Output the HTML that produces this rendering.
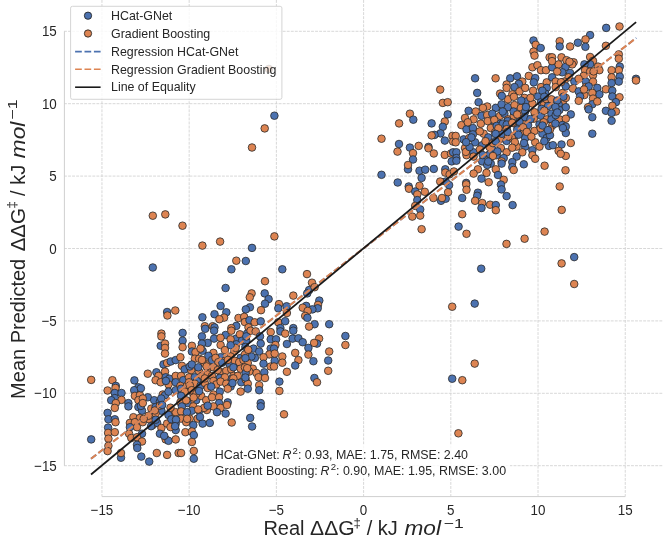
<!DOCTYPE html><html><head><meta charset="utf-8"><style>html,body{margin:0;padding:0;background:#fff;overflow:hidden}svg{display:block;filter:blur(0.4px)}</style></head><body><svg width="663" height="542" viewBox="0 0 663 542">
<rect width="663" height="542" fill="#fff"/>
<g stroke="#d4d4d4" stroke-width="0.9" stroke-dasharray="2.9 1.15"><line x1="64" y1="465.70" x2="663" y2="465.70"/><line x1="101.95" y1="0" x2="101.95" y2="496.5"/><line x1="64" y1="393.30" x2="663" y2="393.30"/><line x1="189.17" y1="0" x2="189.17" y2="496.5"/><line x1="64" y1="320.90" x2="663" y2="320.90"/><line x1="276.38" y1="0" x2="276.38" y2="496.5"/><line x1="64" y1="248.50" x2="663" y2="248.50"/><line x1="363.60" y1="0" x2="363.60" y2="496.5"/><line x1="64" y1="176.10" x2="663" y2="176.10"/><line x1="450.82" y1="0" x2="450.82" y2="496.5"/><line x1="64" y1="103.70" x2="663" y2="103.70"/><line x1="538.03" y1="0" x2="538.03" y2="496.5"/><line x1="64" y1="31.30" x2="663" y2="31.30"/><line x1="625.25" y1="0" x2="625.25" y2="496.5"/></g>
<line x1="64.4" y1="31.30" x2="64.4" y2="465.70" stroke="#cfcfcf" stroke-width="1.0"/>
<line x1="101.95" y1="496.6" x2="625.25" y2="496.6" stroke="#cfcfcf" stroke-width="1.0"/>
<g stroke="#2a2a2a" stroke-width="0.8"><circle cx="152.8" cy="267.5" r="3.8" fill="#4c72b0"/><circle cx="167.1" cy="312.0" r="3.8" fill="#4c72b0"/><circle cx="167.4" cy="315.5" r="3.8" fill="#dd8452"/><circle cx="175.3" cy="310.5" r="3.8" fill="#dd8452"/><circle cx="236.3" cy="260.7" r="3.8" fill="#dd8452"/><circle cx="245.8" cy="261.0" r="3.8" fill="#4c72b0"/><circle cx="231.4" cy="269.3" r="3.8" fill="#4c72b0"/><circle cx="265.0" cy="281.2" r="3.8" fill="#dd8452"/><circle cx="225.6" cy="288.0" r="3.8" fill="#4c72b0"/><circle cx="251.6" cy="293.4" r="3.8" fill="#dd8452"/><circle cx="249.8" cy="297.3" r="3.8" fill="#dd8452"/><circle cx="264.7" cy="293.4" r="3.8" fill="#4c72b0"/><circle cx="268.6" cy="299.1" r="3.8" fill="#4c72b0"/><circle cx="265.0" cy="303.7" r="3.8" fill="#4c72b0"/><circle cx="220.6" cy="305.9" r="3.8" fill="#4c72b0"/><circle cx="261.0" cy="310.2" r="3.8" fill="#dd8452"/><circle cx="249.9" cy="307.3" r="3.8" fill="#4c72b0"/><circle cx="245.8" cy="309.4" r="3.8" fill="#4c72b0"/><circle cx="226.3" cy="312.3" r="3.8" fill="#4c72b0"/><circle cx="214.5" cy="314.2" r="3.8" fill="#4c72b0"/><circle cx="202.4" cy="317.3" r="3.8" fill="#4c72b0"/><circle cx="224.1" cy="317.6" r="3.8" fill="#dd8452"/><circle cx="219.4" cy="319.2" r="3.8" fill="#dd8452"/><circle cx="238.5" cy="318.0" r="3.8" fill="#dd8452"/><circle cx="244.2" cy="316.9" r="3.8" fill="#dd8452"/><circle cx="244.9" cy="322.1" r="3.8" fill="#dd8452"/><circle cx="249.5" cy="320.2" r="3.8" fill="#4c72b0"/><circle cx="254.7" cy="322.3" r="3.8" fill="#dd8452"/><circle cx="260.7" cy="321.3" r="3.8" fill="#4c72b0"/><circle cx="248.5" cy="327.4" r="3.8" fill="#dd8452"/><circle cx="236.3" cy="325.9" r="3.8" fill="#4c72b0"/><circle cx="204.8" cy="326.2" r="3.8" fill="#dd8452"/><circle cx="205.2" cy="328.8" r="3.8" fill="#4c72b0"/><circle cx="212.7" cy="326.2" r="3.8" fill="#dd8452"/><circle cx="214.5" cy="327.4" r="3.8" fill="#4c72b0"/><circle cx="231.3" cy="328.1" r="3.8" fill="#dd8452"/><circle cx="282.3" cy="269.3" r="3.8" fill="#4c72b0"/><circle cx="307.0" cy="274.1" r="3.8" fill="#dd8452"/><circle cx="312.0" cy="282.7" r="3.8" fill="#dd8452"/><circle cx="309.1" cy="290.1" r="3.8" fill="#4c72b0"/><circle cx="307.2" cy="293.4" r="3.8" fill="#4c72b0"/><circle cx="314.6" cy="287.2" r="3.8" fill="#dd8452"/><circle cx="293.3" cy="295.6" r="3.8" fill="#dd8452"/><circle cx="279.0" cy="304.1" r="3.8" fill="#dd8452"/><circle cx="278.3" cy="308.3" r="3.8" fill="#4c72b0"/><circle cx="286.6" cy="306.3" r="3.8" fill="#4c72b0"/><circle cx="286.9" cy="313.0" r="3.8" fill="#dd8452"/><circle cx="278.3" cy="322.3" r="3.8" fill="#dd8452"/><circle cx="285.2" cy="321.2" r="3.8" fill="#4c72b0"/><circle cx="306.2" cy="305.9" r="3.8" fill="#4c72b0"/><circle cx="302.7" cy="307.7" r="3.8" fill="#dd8452"/><circle cx="319.3" cy="300.6" r="3.8" fill="#4c72b0"/><circle cx="318.0" cy="304.9" r="3.8" fill="#dd8452"/><circle cx="317.7" cy="308.3" r="3.8" fill="#4c72b0"/><circle cx="312.4" cy="309.4" r="3.8" fill="#4c72b0"/><circle cx="307.7" cy="310.9" r="3.8" fill="#dd8452"/><circle cx="305.2" cy="315.9" r="3.8" fill="#dd8452"/><circle cx="307.4" cy="317.8" r="3.8" fill="#4c72b0"/><circle cx="314.6" cy="324.2" r="3.8" fill="#4c72b0"/><circle cx="329.2" cy="324.2" r="3.8" fill="#4c72b0"/><circle cx="309.1" cy="326.6" r="3.8" fill="#dd8452"/><circle cx="293.3" cy="328.1" r="3.8" fill="#4c72b0"/><circle cx="280.4" cy="328.1" r="3.8" fill="#4c72b0"/><circle cx="91.2" cy="379.9" r="3.8" fill="#dd8452"/><circle cx="112.4" cy="380.2" r="3.8" fill="#dd8452"/><circle cx="115.8" cy="385.9" r="3.8" fill="#4c72b0"/><circle cx="115.5" cy="388.0" r="3.8" fill="#dd8452"/><circle cx="107.6" cy="390.5" r="3.8" fill="#dd8452"/><circle cx="114.8" cy="393.0" r="3.8" fill="#4c72b0"/><circle cx="121.5" cy="393.0" r="3.8" fill="#4c72b0"/><circle cx="114.8" cy="398.1" r="3.8" fill="#4c72b0"/><circle cx="121.5" cy="399.9" r="3.8" fill="#dd8452"/><circle cx="111.2" cy="400.2" r="3.8" fill="#4c72b0"/><circle cx="115.8" cy="403.1" r="3.8" fill="#dd8452"/><circle cx="134.4" cy="380.4" r="3.8" fill="#4c72b0"/><circle cx="138.4" cy="387.3" r="3.8" fill="#4c72b0"/><circle cx="134.2" cy="390.2" r="3.8" fill="#4c72b0"/><circle cx="134.9" cy="395.9" r="3.8" fill="#dd8452"/><circle cx="139.9" cy="395.2" r="3.8" fill="#dd8452"/><circle cx="138.4" cy="400.2" r="3.8" fill="#dd8452"/><circle cx="128.4" cy="403.1" r="3.8" fill="#4c72b0"/><circle cx="147.8" cy="397.3" r="3.8" fill="#4c72b0"/><circle cx="154.2" cy="400.2" r="3.8" fill="#4c72b0"/><circle cx="147.8" cy="373.7" r="3.8" fill="#dd8452"/><circle cx="156.4" cy="372.3" r="3.8" fill="#4c72b0"/><circle cx="161.4" cy="333.6" r="3.8" fill="#dd8452"/><circle cx="161.4" cy="336.4" r="3.8" fill="#dd8452"/><circle cx="160.7" cy="345.8" r="3.8" fill="#4c72b0"/><circle cx="165.0" cy="343.6" r="3.8" fill="#dd8452"/><circle cx="165.0" cy="347.9" r="3.8" fill="#dd8452"/><circle cx="165.0" cy="353.6" r="3.8" fill="#dd8452"/><circle cx="163.5" cy="364.4" r="3.8" fill="#4c72b0"/><circle cx="167.1" cy="363.0" r="3.8" fill="#dd8452"/><circle cx="170.7" cy="361.5" r="3.8" fill="#4c72b0"/><circle cx="175.7" cy="360.1" r="3.8" fill="#4c72b0"/><circle cx="165.0" cy="371.6" r="3.8" fill="#dd8452"/><circle cx="165.7" cy="377.3" r="3.8" fill="#4c72b0"/><circle cx="158.5" cy="375.9" r="3.8" fill="#dd8452"/><circle cx="155.6" cy="380.2" r="3.8" fill="#dd8452"/><circle cx="160.7" cy="382.3" r="3.8" fill="#dd8452"/><circle cx="169.3" cy="378.7" r="3.8" fill="#4c72b0"/><circle cx="168.5" cy="384.4" r="3.8" fill="#dd8452"/><circle cx="175.7" cy="375.9" r="3.8" fill="#dd8452"/><circle cx="175.7" cy="382.3" r="3.8" fill="#4c72b0"/><circle cx="162.8" cy="394.5" r="3.8" fill="#dd8452"/><circle cx="165.0" cy="395.2" r="3.8" fill="#4c72b0"/><circle cx="168.5" cy="391.6" r="3.8" fill="#4c72b0"/><circle cx="175.7" cy="390.2" r="3.8" fill="#4c72b0"/><circle cx="159.9" cy="401.6" r="3.8" fill="#4c72b0"/><circle cx="182.6" cy="332.9" r="3.8" fill="#4c72b0"/><circle cx="201.9" cy="336.4" r="3.8" fill="#4c72b0"/><circle cx="214.1" cy="330.7" r="3.8" fill="#4c72b0"/><circle cx="214.1" cy="338.6" r="3.8" fill="#4c72b0"/><circle cx="225.6" cy="335.0" r="3.8" fill="#4c72b0"/><circle cx="231.3" cy="330.7" r="3.8" fill="#dd8452"/><circle cx="236.3" cy="338.6" r="3.8" fill="#4c72b0"/><circle cx="239.9" cy="334.3" r="3.8" fill="#dd8452"/><circle cx="247.1" cy="333.6" r="3.8" fill="#4c72b0"/><circle cx="250.6" cy="330.7" r="3.8" fill="#dd8452"/><circle cx="255.7" cy="331.4" r="3.8" fill="#dd8452"/><circle cx="260.0" cy="336.4" r="3.8" fill="#4c72b0"/><circle cx="270.7" cy="332.1" r="3.8" fill="#dd8452"/><circle cx="270.7" cy="339.3" r="3.8" fill="#4c72b0"/><circle cx="207.7" cy="342.9" r="3.8" fill="#4c72b0"/><circle cx="201.9" cy="343.6" r="3.8" fill="#4c72b0"/><circle cx="220.6" cy="345.0" r="3.8" fill="#dd8452"/><circle cx="230.6" cy="339.3" r="3.8" fill="#dd8452"/><circle cx="242.0" cy="340.7" r="3.8" fill="#4c72b0"/><circle cx="246.3" cy="340.7" r="3.8" fill="#4c72b0"/><circle cx="182.6" cy="340.7" r="3.8" fill="#4c72b0"/><circle cx="182.6" cy="347.2" r="3.8" fill="#dd8452"/><circle cx="191.9" cy="345.8" r="3.8" fill="#dd8452"/><circle cx="191.9" cy="351.5" r="3.8" fill="#4c72b0"/><circle cx="195.5" cy="352.2" r="3.8" fill="#dd8452"/><circle cx="202.6" cy="350.8" r="3.8" fill="#4c72b0"/><circle cx="200.5" cy="348.6" r="3.8" fill="#dd8452"/><circle cx="213.4" cy="352.9" r="3.8" fill="#dd8452"/><circle cx="208.4" cy="355.8" r="3.8" fill="#4c72b0"/><circle cx="224.9" cy="350.1" r="3.8" fill="#dd8452"/><circle cx="220.6" cy="357.2" r="3.8" fill="#4c72b0"/><circle cx="234.2" cy="351.5" r="3.8" fill="#dd8452"/><circle cx="236.3" cy="344.3" r="3.8" fill="#4c72b0"/><circle cx="235.6" cy="347.9" r="3.8" fill="#dd8452"/><circle cx="253.5" cy="348.6" r="3.8" fill="#4c72b0"/><circle cx="259.2" cy="351.5" r="3.8" fill="#4c72b0"/><circle cx="260.7" cy="343.6" r="3.8" fill="#4c72b0"/><circle cx="270.7" cy="348.6" r="3.8" fill="#4c72b0"/><circle cx="269.3" cy="354.4" r="3.8" fill="#dd8452"/><circle cx="263.5" cy="357.2" r="3.8" fill="#dd8452"/><circle cx="254.9" cy="357.9" r="3.8" fill="#4c72b0"/><circle cx="251.4" cy="356.5" r="3.8" fill="#4c72b0"/><circle cx="240.6" cy="357.9" r="3.8" fill="#4c72b0"/><circle cx="244.9" cy="354.4" r="3.8" fill="#dd8452"/><circle cx="230.6" cy="356.5" r="3.8" fill="#dd8452"/><circle cx="180.4" cy="357.2" r="3.8" fill="#dd8452"/><circle cx="194.8" cy="358.7" r="3.8" fill="#dd8452"/><circle cx="199.1" cy="358.7" r="3.8" fill="#dd8452"/><circle cx="204.1" cy="363.0" r="3.8" fill="#dd8452"/><circle cx="208.4" cy="364.4" r="3.8" fill="#dd8452"/><circle cx="212.0" cy="360.1" r="3.8" fill="#4c72b0"/><circle cx="215.5" cy="357.9" r="3.8" fill="#dd8452"/><circle cx="218.4" cy="362.2" r="3.8" fill="#dd8452"/><circle cx="224.9" cy="360.8" r="3.8" fill="#dd8452"/><circle cx="229.9" cy="364.4" r="3.8" fill="#4c72b0"/><circle cx="234.9" cy="360.8" r="3.8" fill="#dd8452"/><circle cx="239.2" cy="362.2" r="3.8" fill="#dd8452"/><circle cx="243.5" cy="360.1" r="3.8" fill="#dd8452"/><circle cx="247.8" cy="363.0" r="3.8" fill="#dd8452"/><circle cx="263.5" cy="363.7" r="3.8" fill="#4c72b0"/><circle cx="270.7" cy="366.5" r="3.8" fill="#dd8452"/><circle cx="181.9" cy="365.8" r="3.8" fill="#dd8452"/><circle cx="184.7" cy="369.4" r="3.8" fill="#4c72b0"/><circle cx="191.2" cy="370.1" r="3.8" fill="#dd8452"/><circle cx="189.7" cy="366.5" r="3.8" fill="#4c72b0"/><circle cx="199.1" cy="371.6" r="3.8" fill="#dd8452"/><circle cx="207.7" cy="368.7" r="3.8" fill="#dd8452"/><circle cx="213.4" cy="367.3" r="3.8" fill="#dd8452"/><circle cx="219.8" cy="371.6" r="3.8" fill="#dd8452"/><circle cx="226.3" cy="370.8" r="3.8" fill="#dd8452"/><circle cx="231.3" cy="369.4" r="3.8" fill="#dd8452"/><circle cx="233.4" cy="367.3" r="3.8" fill="#4c72b0"/><circle cx="240.6" cy="368.7" r="3.8" fill="#dd8452"/><circle cx="244.9" cy="367.3" r="3.8" fill="#dd8452"/><circle cx="252.8" cy="368.7" r="3.8" fill="#dd8452"/><circle cx="256.4" cy="373.0" r="3.8" fill="#dd8452"/><circle cx="264.3" cy="372.3" r="3.8" fill="#4c72b0"/><circle cx="249.2" cy="371.6" r="3.8" fill="#dd8452"/><circle cx="245.6" cy="373.0" r="3.8" fill="#4c72b0"/><circle cx="181.1" cy="375.9" r="3.8" fill="#dd8452"/><circle cx="183.3" cy="380.2" r="3.8" fill="#4c72b0"/><circle cx="189.0" cy="377.3" r="3.8" fill="#dd8452"/><circle cx="194.8" cy="377.3" r="3.8" fill="#4c72b0"/><circle cx="201.9" cy="375.9" r="3.8" fill="#dd8452"/><circle cx="196.9" cy="380.9" r="3.8" fill="#4c72b0"/><circle cx="207.7" cy="374.4" r="3.8" fill="#dd8452"/><circle cx="212.0" cy="375.9" r="3.8" fill="#dd8452"/><circle cx="219.8" cy="378.0" r="3.8" fill="#4c72b0"/><circle cx="224.9" cy="377.3" r="3.8" fill="#dd8452"/><circle cx="233.4" cy="375.9" r="3.8" fill="#dd8452"/><circle cx="232.0" cy="378.7" r="3.8" fill="#4c72b0"/><circle cx="237.7" cy="375.9" r="3.8" fill="#dd8452"/><circle cx="241.3" cy="382.3" r="3.8" fill="#4c72b0"/><circle cx="245.6" cy="379.4" r="3.8" fill="#dd8452"/><circle cx="247.8" cy="383.7" r="3.8" fill="#dd8452"/><circle cx="258.5" cy="377.3" r="3.8" fill="#dd8452"/><circle cx="265.0" cy="378.0" r="3.8" fill="#dd8452"/><circle cx="259.2" cy="385.2" r="3.8" fill="#dd8452"/><circle cx="259.2" cy="390.2" r="3.8" fill="#4c72b0"/><circle cx="180.4" cy="385.9" r="3.8" fill="#dd8452"/><circle cx="181.1" cy="388.7" r="3.8" fill="#4c72b0"/><circle cx="186.9" cy="385.9" r="3.8" fill="#dd8452"/><circle cx="189.0" cy="382.3" r="3.8" fill="#dd8452"/><circle cx="194.8" cy="383.7" r="3.8" fill="#dd8452"/><circle cx="200.5" cy="385.9" r="3.8" fill="#4c72b0"/><circle cx="204.8" cy="383.0" r="3.8" fill="#dd8452"/><circle cx="207.7" cy="388.0" r="3.8" fill="#dd8452"/><circle cx="213.4" cy="380.9" r="3.8" fill="#dd8452"/><circle cx="216.3" cy="384.4" r="3.8" fill="#dd8452"/><circle cx="211.2" cy="386.6" r="3.8" fill="#4c72b0"/><circle cx="220.6" cy="381.6" r="3.8" fill="#dd8452"/><circle cx="226.3" cy="383.7" r="3.8" fill="#dd8452"/><circle cx="230.6" cy="386.6" r="3.8" fill="#4c72b0"/><circle cx="227.7" cy="388.7" r="3.8" fill="#dd8452"/><circle cx="219.8" cy="391.6" r="3.8" fill="#4c72b0"/><circle cx="247.8" cy="388.7" r="3.8" fill="#4c72b0"/><circle cx="240.6" cy="391.6" r="3.8" fill="#dd8452"/><circle cx="213.4" cy="394.5" r="3.8" fill="#dd8452"/><circle cx="184.7" cy="391.6" r="3.8" fill="#dd8452"/><circle cx="181.1" cy="395.9" r="3.8" fill="#4c72b0"/><circle cx="193.3" cy="393.8" r="3.8" fill="#dd8452"/><circle cx="196.2" cy="400.2" r="3.8" fill="#4c72b0"/><circle cx="201.2" cy="395.9" r="3.8" fill="#dd8452"/><circle cx="206.2" cy="400.2" r="3.8" fill="#dd8452"/><circle cx="212.0" cy="397.3" r="3.8" fill="#dd8452"/><circle cx="219.1" cy="397.3" r="3.8" fill="#dd8452"/><circle cx="219.1" cy="403.1" r="3.8" fill="#4c72b0"/><circle cx="227.7" cy="402.4" r="3.8" fill="#4c72b0"/><circle cx="190.5" cy="401.6" r="3.8" fill="#dd8452"/><circle cx="260.7" cy="403.1" r="3.8" fill="#4c72b0"/><circle cx="180.4" cy="402.4" r="3.8" fill="#dd8452"/><circle cx="187.6" cy="403.1" r="3.8" fill="#4c72b0"/><circle cx="152.8" cy="215.7" r="3.8" fill="#dd8452"/><circle cx="165.3" cy="214.4" r="3.8" fill="#dd8452"/><circle cx="182.5" cy="225.7" r="3.8" fill="#dd8452"/><circle cx="202.4" cy="245.6" r="3.8" fill="#dd8452"/><circle cx="220.1" cy="241.6" r="3.8" fill="#dd8452"/><circle cx="274.4" cy="115.7" r="3.8" fill="#4c72b0"/><circle cx="264.7" cy="128.4" r="3.8" fill="#dd8452"/><circle cx="252.0" cy="147.5" r="3.8" fill="#dd8452"/><circle cx="252.0" cy="247.9" r="3.8" fill="#4c72b0"/><circle cx="274.4" cy="236.4" r="3.8" fill="#dd8452"/><circle cx="268.9" cy="69.0" r="3.8" fill="#dd8452"/><circle cx="280.4" cy="331.4" r="3.8" fill="#4c72b0"/><circle cx="285.2" cy="333.6" r="3.8" fill="#dd8452"/><circle cx="293.3" cy="330.7" r="3.8" fill="#4c72b0"/><circle cx="276.1" cy="339.3" r="3.8" fill="#4c72b0"/><circle cx="275.4" cy="345.0" r="3.8" fill="#dd8452"/><circle cx="274.0" cy="348.6" r="3.8" fill="#4c72b0"/><circle cx="286.9" cy="344.0" r="3.8" fill="#4c72b0"/><circle cx="292.6" cy="338.6" r="3.8" fill="#4c72b0"/><circle cx="298.4" cy="338.3" r="3.8" fill="#4c72b0"/><circle cx="302.7" cy="342.2" r="3.8" fill="#4c72b0"/><circle cx="319.1" cy="338.6" r="3.8" fill="#dd8452"/><circle cx="317.0" cy="343.6" r="3.8" fill="#4c72b0"/><circle cx="314.1" cy="342.9" r="3.8" fill="#dd8452"/><circle cx="308.4" cy="347.9" r="3.8" fill="#4c72b0"/><circle cx="308.4" cy="354.6" r="3.8" fill="#dd8452"/><circle cx="295.2" cy="352.9" r="3.8" fill="#dd8452"/><circle cx="282.3" cy="356.5" r="3.8" fill="#dd8452"/><circle cx="282.3" cy="362.7" r="3.8" fill="#dd8452"/><circle cx="274.7" cy="360.8" r="3.8" fill="#4c72b0"/><circle cx="274.7" cy="353.6" r="3.8" fill="#dd8452"/><circle cx="298.4" cy="360.1" r="3.8" fill="#dd8452"/><circle cx="295.2" cy="365.5" r="3.8" fill="#4c72b0"/><circle cx="313.4" cy="361.2" r="3.8" fill="#4c72b0"/><circle cx="329.2" cy="351.5" r="3.8" fill="#dd8452"/><circle cx="328.2" cy="360.5" r="3.8" fill="#4c72b0"/><circle cx="328.2" cy="370.8" r="3.8" fill="#dd8452"/><circle cx="345.4" cy="336.0" r="3.8" fill="#4c72b0"/><circle cx="345.4" cy="345.0" r="3.8" fill="#dd8452"/><circle cx="286.9" cy="371.8" r="3.8" fill="#dd8452"/><circle cx="279.4" cy="381.6" r="3.8" fill="#4c72b0"/><circle cx="279.4" cy="390.9" r="3.8" fill="#dd8452"/><circle cx="314.4" cy="378.0" r="3.8" fill="#4c72b0"/><circle cx="317.0" cy="382.3" r="3.8" fill="#dd8452"/><circle cx="274.0" cy="366.5" r="3.8" fill="#dd8452"/><circle cx="91.2" cy="439.4" r="3.8" fill="#4c72b0"/><circle cx="114.8" cy="407.9" r="3.8" fill="#dd8452"/><circle cx="107.6" cy="412.9" r="3.8" fill="#4c72b0"/><circle cx="108.4" cy="419.3" r="3.8" fill="#4c72b0"/><circle cx="114.8" cy="419.3" r="3.8" fill="#4c72b0"/><circle cx="115.5" cy="422.2" r="3.8" fill="#dd8452"/><circle cx="108.1" cy="427.6" r="3.8" fill="#4c72b0"/><circle cx="108.1" cy="432.9" r="3.8" fill="#dd8452"/><circle cx="114.8" cy="432.2" r="3.8" fill="#dd8452"/><circle cx="108.4" cy="438.7" r="3.8" fill="#dd8452"/><circle cx="108.4" cy="445.8" r="3.8" fill="#dd8452"/><circle cx="107.6" cy="451.1" r="3.8" fill="#dd8452"/><circle cx="121.0" cy="457.7" r="3.8" fill="#4c72b0"/><circle cx="121.0" cy="453.0" r="3.8" fill="#dd8452"/><circle cx="128.4" cy="406.4" r="3.8" fill="#4c72b0"/><circle cx="138.4" cy="407.1" r="3.8" fill="#4c72b0"/><circle cx="142.0" cy="410.7" r="3.8" fill="#4c72b0"/><circle cx="133.4" cy="417.2" r="3.8" fill="#dd8452"/><circle cx="139.9" cy="417.9" r="3.8" fill="#dd8452"/><circle cx="129.9" cy="422.9" r="3.8" fill="#dd8452"/><circle cx="134.9" cy="422.2" r="3.8" fill="#dd8452"/><circle cx="137.0" cy="427.2" r="3.8" fill="#dd8452"/><circle cx="142.7" cy="422.2" r="3.8" fill="#dd8452"/><circle cx="149.2" cy="419.3" r="3.8" fill="#dd8452"/><circle cx="129.9" cy="427.2" r="3.8" fill="#4c72b0"/><circle cx="129.1" cy="433.7" r="3.8" fill="#dd8452"/><circle cx="142.0" cy="433.7" r="3.8" fill="#4c72b0"/><circle cx="131.3" cy="438.0" r="3.8" fill="#dd8452"/><circle cx="137.0" cy="437.2" r="3.8" fill="#dd8452"/><circle cx="142.0" cy="441.5" r="3.8" fill="#dd8452"/><circle cx="137.0" cy="444.8" r="3.8" fill="#4c72b0"/><circle cx="137.3" cy="448.0" r="3.8" fill="#4c72b0"/><circle cx="141.3" cy="456.6" r="3.8" fill="#4c72b0"/><circle cx="149.2" cy="461.6" r="3.8" fill="#4c72b0"/><circle cx="156.8" cy="453.0" r="3.8" fill="#dd8452"/><circle cx="167.1" cy="454.9" r="3.8" fill="#dd8452"/><circle cx="178.6" cy="453.0" r="3.8" fill="#dd8452"/><circle cx="151.3" cy="408.6" r="3.8" fill="#dd8452"/><circle cx="155.6" cy="407.1" r="3.8" fill="#4c72b0"/><circle cx="161.4" cy="410.7" r="3.8" fill="#4c72b0"/><circle cx="159.9" cy="405.7" r="3.8" fill="#dd8452"/><circle cx="170.0" cy="413.6" r="3.8" fill="#dd8452"/><circle cx="168.5" cy="415.0" r="3.8" fill="#4c72b0"/><circle cx="175.7" cy="412.2" r="3.8" fill="#dd8452"/><circle cx="152.8" cy="425.1" r="3.8" fill="#dd8452"/><circle cx="157.1" cy="422.9" r="3.8" fill="#4c72b0"/><circle cx="161.4" cy="427.9" r="3.8" fill="#dd8452"/><circle cx="167.1" cy="423.6" r="3.8" fill="#dd8452"/><circle cx="171.4" cy="419.3" r="3.8" fill="#4c72b0"/><circle cx="175.7" cy="423.6" r="3.8" fill="#4c72b0"/><circle cx="175.7" cy="430.1" r="3.8" fill="#4c72b0"/><circle cx="159.9" cy="433.7" r="3.8" fill="#4c72b0"/><circle cx="165.7" cy="439.4" r="3.8" fill="#dd8452"/><circle cx="168.5" cy="440.8" r="3.8" fill="#4c72b0"/><circle cx="175.7" cy="439.4" r="3.8" fill="#dd8452"/><circle cx="164.2" cy="435.8" r="3.8" fill="#4c72b0"/><circle cx="155.6" cy="413.6" r="3.8" fill="#dd8452"/><circle cx="148.5" cy="415.7" r="3.8" fill="#dd8452"/><circle cx="181.9" cy="406.4" r="3.8" fill="#4c72b0"/><circle cx="193.3" cy="406.4" r="3.8" fill="#dd8452"/><circle cx="191.9" cy="410.7" r="3.8" fill="#4c72b0"/><circle cx="199.1" cy="410.7" r="3.8" fill="#4c72b0"/><circle cx="206.9" cy="410.0" r="3.8" fill="#dd8452"/><circle cx="213.4" cy="406.4" r="3.8" fill="#dd8452"/><circle cx="220.6" cy="407.9" r="3.8" fill="#dd8452"/><circle cx="217.0" cy="412.2" r="3.8" fill="#4c72b0"/><circle cx="225.6" cy="413.6" r="3.8" fill="#4c72b0"/><circle cx="227.0" cy="405.0" r="3.8" fill="#dd8452"/><circle cx="181.1" cy="411.4" r="3.8" fill="#dd8452"/><circle cx="181.1" cy="418.6" r="3.8" fill="#dd8452"/><circle cx="189.7" cy="418.6" r="3.8" fill="#dd8452"/><circle cx="197.6" cy="418.6" r="3.8" fill="#dd8452"/><circle cx="186.9" cy="412.2" r="3.8" fill="#4c72b0"/><circle cx="186.2" cy="422.2" r="3.8" fill="#dd8452"/><circle cx="193.3" cy="425.1" r="3.8" fill="#4c72b0"/><circle cx="202.6" cy="423.6" r="3.8" fill="#4c72b0"/><circle cx="209.8" cy="422.9" r="3.8" fill="#4c72b0"/><circle cx="231.7" cy="422.5" r="3.8" fill="#dd8452"/><circle cx="260.7" cy="406.4" r="3.8" fill="#4c72b0"/><circle cx="250.2" cy="417.9" r="3.8" fill="#4c72b0"/><circle cx="252.1" cy="426.5" r="3.8" fill="#4c72b0"/><circle cx="185.4" cy="432.2" r="3.8" fill="#dd8452"/><circle cx="191.9" cy="431.5" r="3.8" fill="#dd8452"/><circle cx="193.8" cy="435.1" r="3.8" fill="#4c72b0"/><circle cx="191.9" cy="442.0" r="3.8" fill="#dd8452"/><circle cx="181.1" cy="453.0" r="3.8" fill="#dd8452"/><circle cx="193.8" cy="450.9" r="3.8" fill="#dd8452"/><circle cx="193.8" cy="458.7" r="3.8" fill="#4c72b0"/><circle cx="204.1" cy="407.9" r="3.8" fill="#dd8452"/><circle cx="207.7" cy="405.7" r="3.8" fill="#4c72b0"/><circle cx="284.0" cy="414.3" r="3.8" fill="#dd8452"/><circle cx="481.2" cy="268.7" r="3.8" fill="#4c72b0"/><circle cx="474.7" cy="303.6" r="3.8" fill="#4c72b0"/><circle cx="452.2" cy="306.7" r="3.8" fill="#dd8452"/><circle cx="474.7" cy="363.6" r="3.8" fill="#dd8452"/><circle cx="452.2" cy="378.7" r="3.8" fill="#4c72b0"/><circle cx="462.3" cy="380.2" r="3.8" fill="#dd8452"/><circle cx="458.4" cy="433.3" r="3.8" fill="#dd8452"/><circle cx="533.5" cy="40.5" r="3.8" fill="#4c72b0"/><circle cx="535.7" cy="44.8" r="3.8" fill="#dd8452"/><circle cx="540.7" cy="48.0" r="3.8" fill="#4c72b0"/><circle cx="533.5" cy="51.6" r="3.8" fill="#dd8452"/><circle cx="534.5" cy="55.6" r="3.8" fill="#dd8452"/><circle cx="532.4" cy="67.3" r="3.8" fill="#dd8452"/><circle cx="537.4" cy="65.2" r="3.8" fill="#dd8452"/><circle cx="541.0" cy="70.2" r="3.8" fill="#dd8452"/><circle cx="546.0" cy="70.2" r="3.8" fill="#dd8452"/><circle cx="549.6" cy="57.3" r="3.8" fill="#dd8452"/><circle cx="475.1" cy="78.3" r="3.8" fill="#4c72b0"/><circle cx="495.6" cy="78.3" r="3.8" fill="#dd8452"/><circle cx="510.2" cy="78.3" r="3.8" fill="#4c72b0"/><circle cx="517.0" cy="76.3" r="3.8" fill="#4c72b0"/><circle cx="528.8" cy="75.9" r="3.8" fill="#dd8452"/><circle cx="535.2" cy="78.1" r="3.8" fill="#4c72b0"/><circle cx="533.8" cy="82.4" r="3.8" fill="#4c72b0"/><circle cx="522.3" cy="81.6" r="3.8" fill="#dd8452"/><circle cx="546.7" cy="82.4" r="3.8" fill="#dd8452"/><circle cx="518.8" cy="83.8" r="3.8" fill="#4c72b0"/><circle cx="506.6" cy="84.5" r="3.8" fill="#dd8452"/><circle cx="606.2" cy="27.9" r="3.8" fill="#4c72b0"/><circle cx="619.5" cy="26.5" r="3.8" fill="#dd8452"/><circle cx="590.1" cy="35.1" r="3.8" fill="#4c72b0"/><circle cx="585.5" cy="39.4" r="3.8" fill="#dd8452"/><circle cx="577.9" cy="42.7" r="3.8" fill="#4c72b0"/><circle cx="585.4" cy="46.8" r="3.8" fill="#4c72b0"/><circle cx="570.1" cy="46.5" r="3.8" fill="#dd8452"/><circle cx="559.7" cy="41.2" r="3.8" fill="#dd8452"/><circle cx="559.7" cy="46.5" r="3.8" fill="#4c72b0"/><circle cx="605.9" cy="45.8" r="3.8" fill="#dd8452"/><circle cx="590.1" cy="57.0" r="3.8" fill="#dd8452"/><circle cx="593.0" cy="60.9" r="3.8" fill="#dd8452"/><circle cx="590.1" cy="64.2" r="3.8" fill="#4c72b0"/><circle cx="584.4" cy="64.4" r="3.8" fill="#4c72b0"/><circle cx="598.0" cy="66.6" r="3.8" fill="#dd8452"/><circle cx="599.4" cy="70.2" r="3.8" fill="#dd8452"/><circle cx="585.1" cy="70.2" r="3.8" fill="#dd8452"/><circle cx="590.1" cy="71.6" r="3.8" fill="#dd8452"/><circle cx="593.0" cy="75.2" r="3.8" fill="#dd8452"/><circle cx="583.7" cy="75.9" r="3.8" fill="#dd8452"/><circle cx="618.8" cy="54.4" r="3.8" fill="#dd8452"/><circle cx="618.8" cy="58.7" r="3.8" fill="#dd8452"/><circle cx="619.8" cy="66.6" r="3.8" fill="#4c72b0"/><circle cx="618.8" cy="70.2" r="3.8" fill="#dd8452"/><circle cx="611.6" cy="70.2" r="3.8" fill="#dd8452"/><circle cx="611.6" cy="77.3" r="3.8" fill="#dd8452"/><circle cx="619.8" cy="76.6" r="3.8" fill="#4c72b0"/><circle cx="618.8" cy="81.6" r="3.8" fill="#4c72b0"/><circle cx="611.6" cy="83.1" r="3.8" fill="#4c72b0"/><circle cx="636.0" cy="78.8" r="3.8" fill="#4c72b0"/><circle cx="636.0" cy="80.5" r="3.8" fill="#dd8452"/><circle cx="552.1" cy="57.3" r="3.8" fill="#dd8452"/><circle cx="561.5" cy="57.3" r="3.8" fill="#dd8452"/><circle cx="566.5" cy="60.2" r="3.8" fill="#dd8452"/><circle cx="573.6" cy="62.3" r="3.8" fill="#dd8452"/><circle cx="572.2" cy="64.4" r="3.8" fill="#dd8452"/><circle cx="552.1" cy="67.3" r="3.8" fill="#4c72b0"/><circle cx="558.6" cy="64.4" r="3.8" fill="#dd8452"/><circle cx="565.5" cy="67.0" r="3.8" fill="#4c72b0"/><circle cx="562.2" cy="72.3" r="3.8" fill="#4c72b0"/><circle cx="557.2" cy="71.6" r="3.8" fill="#dd8452"/><circle cx="570.1" cy="73.0" r="3.8" fill="#4c72b0"/><circle cx="568.6" cy="77.3" r="3.8" fill="#dd8452"/><circle cx="552.1" cy="77.3" r="3.8" fill="#4c72b0"/><circle cx="555.7" cy="81.6" r="3.8" fill="#dd8452"/><circle cx="564.3" cy="81.6" r="3.8" fill="#dd8452"/><circle cx="574.4" cy="81.6" r="3.8" fill="#4c72b0"/><circle cx="578.7" cy="78.8" r="3.8" fill="#dd8452"/><circle cx="585.8" cy="81.6" r="3.8" fill="#4c72b0"/><circle cx="593.0" cy="81.6" r="3.8" fill="#dd8452"/><circle cx="440.2" cy="89.6" r="3.8" fill="#dd8452"/><circle cx="442.8" cy="102.9" r="3.8" fill="#dd8452"/><circle cx="447.7" cy="102.2" r="3.8" fill="#dd8452"/><circle cx="447.7" cy="114.4" r="3.8" fill="#4c72b0"/><circle cx="444.8" cy="121.5" r="3.8" fill="#dd8452"/><circle cx="442.8" cy="126.8" r="3.8" fill="#4c72b0"/><circle cx="440.5" cy="133.4" r="3.8" fill="#4c72b0"/><circle cx="444.8" cy="140.6" r="3.8" fill="#4c72b0"/><circle cx="452.4" cy="135.9" r="3.8" fill="#dd8452"/><circle cx="453.1" cy="141.6" r="3.8" fill="#dd8452"/><circle cx="409.9" cy="113.7" r="3.8" fill="#dd8452"/><circle cx="413.3" cy="119.7" r="3.8" fill="#4c72b0"/><circle cx="399.1" cy="123.4" r="3.8" fill="#dd8452"/><circle cx="431.6" cy="123.4" r="3.8" fill="#4c72b0"/><circle cx="381.5" cy="138.7" r="3.8" fill="#dd8452"/><circle cx="434.5" cy="134.9" r="3.8" fill="#4c72b0"/><circle cx="431.6" cy="135.4" r="3.8" fill="#dd8452"/><circle cx="399.0" cy="144.0" r="3.8" fill="#4c72b0"/><circle cx="397.5" cy="151.6" r="3.8" fill="#dd8452"/><circle cx="409.9" cy="147.6" r="3.8" fill="#4c72b0"/><circle cx="413.0" cy="153.1" r="3.8" fill="#dd8452"/><circle cx="418.7" cy="145.9" r="3.8" fill="#dd8452"/><circle cx="428.5" cy="146.9" r="3.8" fill="#4c72b0"/><circle cx="428.5" cy="148.3" r="3.8" fill="#dd8452"/><circle cx="433.8" cy="153.5" r="3.8" fill="#dd8452"/><circle cx="444.8" cy="154.9" r="3.8" fill="#dd8452"/><circle cx="451.0" cy="153.5" r="3.8" fill="#dd8452"/><circle cx="453.1" cy="152.3" r="3.8" fill="#4c72b0"/><circle cx="413.0" cy="159.5" r="3.8" fill="#4c72b0"/><circle cx="477.2" cy="92.9" r="3.8" fill="#4c72b0"/><circle cx="506.6" cy="87.9" r="3.8" fill="#dd8452"/><circle cx="514.5" cy="87.1" r="3.8" fill="#4c72b0"/><circle cx="500.1" cy="93.6" r="3.8" fill="#dd8452"/><circle cx="519.5" cy="91.4" r="3.8" fill="#dd8452"/><circle cx="525.2" cy="87.9" r="3.8" fill="#dd8452"/><circle cx="533.1" cy="90.7" r="3.8" fill="#dd8452"/><circle cx="541.0" cy="87.1" r="3.8" fill="#dd8452"/><circle cx="546.7" cy="87.9" r="3.8" fill="#4c72b0"/><circle cx="545.3" cy="93.6" r="3.8" fill="#4c72b0"/><circle cx="538.1" cy="96.5" r="3.8" fill="#4c72b0"/><circle cx="524.5" cy="97.9" r="3.8" fill="#dd8452"/><circle cx="512.3" cy="94.3" r="3.8" fill="#dd8452"/><circle cx="508.0" cy="99.3" r="3.8" fill="#dd8452"/><circle cx="478.6" cy="102.2" r="3.8" fill="#4c72b0"/><circle cx="487.2" cy="106.5" r="3.8" fill="#dd8452"/><circle cx="482.9" cy="107.9" r="3.8" fill="#dd8452"/><circle cx="468.6" cy="110.8" r="3.8" fill="#4c72b0"/><circle cx="475.8" cy="111.5" r="3.8" fill="#dd8452"/><circle cx="495.8" cy="107.9" r="3.8" fill="#4c72b0"/><circle cx="501.6" cy="104.3" r="3.8" fill="#4c72b0"/><circle cx="508.0" cy="107.2" r="3.8" fill="#4c72b0"/><circle cx="514.5" cy="105.1" r="3.8" fill="#dd8452"/><circle cx="520.9" cy="107.9" r="3.8" fill="#dd8452"/><circle cx="526.6" cy="101.5" r="3.8" fill="#4c72b0"/><circle cx="532.4" cy="103.6" r="3.8" fill="#dd8452"/><circle cx="541.0" cy="102.2" r="3.8" fill="#4c72b0"/><circle cx="543.8" cy="105.1" r="3.8" fill="#dd8452"/><circle cx="546.7" cy="99.3" r="3.8" fill="#dd8452"/><circle cx="465.0" cy="118.0" r="3.8" fill="#dd8452"/><circle cx="473.6" cy="119.4" r="3.8" fill="#dd8452"/><circle cx="481.5" cy="115.8" r="3.8" fill="#4c72b0"/><circle cx="487.2" cy="115.1" r="3.8" fill="#dd8452"/><circle cx="492.3" cy="113.7" r="3.8" fill="#4c72b0"/><circle cx="500.1" cy="115.8" r="3.8" fill="#dd8452"/><circle cx="504.4" cy="113.7" r="3.8" fill="#4c72b0"/><circle cx="508.0" cy="119.4" r="3.8" fill="#dd8452"/><circle cx="513.7" cy="115.8" r="3.8" fill="#dd8452"/><circle cx="520.2" cy="114.4" r="3.8" fill="#dd8452"/><circle cx="525.2" cy="111.5" r="3.8" fill="#4c72b0"/><circle cx="534.5" cy="112.2" r="3.8" fill="#dd8452"/><circle cx="533.8" cy="118.7" r="3.8" fill="#dd8452"/><circle cx="541.0" cy="115.8" r="3.8" fill="#4c72b0"/><circle cx="546.7" cy="119.4" r="3.8" fill="#dd8452"/><circle cx="461.4" cy="125.1" r="3.8" fill="#dd8452"/><circle cx="480.8" cy="123.7" r="3.8" fill="#dd8452"/><circle cx="493.7" cy="120.8" r="3.8" fill="#4c72b0"/><circle cx="500.1" cy="123.7" r="3.8" fill="#4c72b0"/><circle cx="490.8" cy="128.0" r="3.8" fill="#dd8452"/><circle cx="506.6" cy="126.6" r="3.8" fill="#dd8452"/><circle cx="515.2" cy="123.7" r="3.8" fill="#dd8452"/><circle cx="522.3" cy="121.5" r="3.8" fill="#dd8452"/><circle cx="528.1" cy="125.1" r="3.8" fill="#4c72b0"/><circle cx="519.5" cy="126.6" r="3.8" fill="#4c72b0"/><circle cx="539.5" cy="124.4" r="3.8" fill="#4c72b0"/><circle cx="543.8" cy="122.3" r="3.8" fill="#dd8452"/><circle cx="466.5" cy="129.4" r="3.8" fill="#4c72b0"/><circle cx="472.9" cy="128.0" r="3.8" fill="#4c72b0"/><circle cx="483.7" cy="133.7" r="3.8" fill="#dd8452"/><circle cx="472.9" cy="134.4" r="3.8" fill="#4c72b0"/><circle cx="455.7" cy="135.9" r="3.8" fill="#dd8452"/><circle cx="455.7" cy="142.3" r="3.8" fill="#dd8452"/><circle cx="463.6" cy="139.4" r="3.8" fill="#4c72b0"/><circle cx="475.1" cy="142.3" r="3.8" fill="#4c72b0"/><circle cx="469.3" cy="138.0" r="3.8" fill="#dd8452"/><circle cx="482.2" cy="145.2" r="3.8" fill="#4c72b0"/><circle cx="489.4" cy="143.7" r="3.8" fill="#dd8452"/><circle cx="495.1" cy="132.3" r="3.8" fill="#dd8452"/><circle cx="502.3" cy="132.3" r="3.8" fill="#dd8452"/><circle cx="500.9" cy="138.7" r="3.8" fill="#dd8452"/><circle cx="506.6" cy="140.9" r="3.8" fill="#4c72b0"/><circle cx="515.2" cy="135.2" r="3.8" fill="#4c72b0"/><circle cx="512.3" cy="138.0" r="3.8" fill="#dd8452"/><circle cx="522.3" cy="130.9" r="3.8" fill="#dd8452"/><circle cx="529.5" cy="133.7" r="3.8" fill="#dd8452"/><circle cx="534.5" cy="130.9" r="3.8" fill="#dd8452"/><circle cx="542.4" cy="133.7" r="3.8" fill="#4c72b0"/><circle cx="546.7" cy="138.0" r="3.8" fill="#4c72b0"/><circle cx="535.2" cy="142.3" r="3.8" fill="#dd8452"/><circle cx="525.2" cy="138.0" r="3.8" fill="#4c72b0"/><circle cx="465.0" cy="148.0" r="3.8" fill="#dd8452"/><circle cx="466.5" cy="155.2" r="3.8" fill="#dd8452"/><circle cx="456.4" cy="152.3" r="3.8" fill="#4c72b0"/><circle cx="456.4" cy="158.1" r="3.8" fill="#4c72b0"/><circle cx="473.6" cy="152.3" r="3.8" fill="#4c72b0"/><circle cx="473.6" cy="156.6" r="3.8" fill="#dd8452"/><circle cx="492.3" cy="149.5" r="3.8" fill="#4c72b0"/><circle cx="489.4" cy="154.5" r="3.8" fill="#dd8452"/><circle cx="500.9" cy="148.0" r="3.8" fill="#dd8452"/><circle cx="506.6" cy="152.3" r="3.8" fill="#dd8452"/><circle cx="496.6" cy="155.2" r="3.8" fill="#4c72b0"/><circle cx="516.6" cy="146.6" r="3.8" fill="#dd8452"/><circle cx="525.2" cy="146.6" r="3.8" fill="#4c72b0"/><circle cx="522.3" cy="152.3" r="3.8" fill="#dd8452"/><circle cx="532.4" cy="150.2" r="3.8" fill="#4c72b0"/><circle cx="539.5" cy="146.6" r="3.8" fill="#dd8452"/><circle cx="532.4" cy="155.2" r="3.8" fill="#dd8452"/><circle cx="516.6" cy="156.6" r="3.8" fill="#4c72b0"/><circle cx="503.7" cy="158.1" r="3.8" fill="#4c72b0"/><circle cx="535.2" cy="158.8" r="3.8" fill="#dd8452"/><circle cx="548.9" cy="145.9" r="3.8" fill="#4c72b0"/><circle cx="555.7" cy="87.1" r="3.8" fill="#dd8452"/><circle cx="565.8" cy="86.4" r="3.8" fill="#4c72b0"/><circle cx="572.9" cy="88.6" r="3.8" fill="#dd8452"/><circle cx="578.7" cy="91.4" r="3.8" fill="#4c72b0"/><circle cx="585.8" cy="87.1" r="3.8" fill="#dd8452"/><circle cx="588.7" cy="86.4" r="3.8" fill="#4c72b0"/><circle cx="584.4" cy="95.0" r="3.8" fill="#dd8452"/><circle cx="580.1" cy="96.5" r="3.8" fill="#4c72b0"/><circle cx="578.7" cy="100.8" r="3.8" fill="#dd8452"/><circle cx="597.3" cy="87.9" r="3.8" fill="#4c72b0"/><circle cx="599.4" cy="94.3" r="3.8" fill="#4c72b0"/><circle cx="592.3" cy="92.9" r="3.8" fill="#dd8452"/><circle cx="593.0" cy="98.6" r="3.8" fill="#dd8452"/><circle cx="592.3" cy="104.3" r="3.8" fill="#4c72b0"/><circle cx="588.0" cy="107.2" r="3.8" fill="#dd8452"/><circle cx="588.7" cy="109.4" r="3.8" fill="#4c72b0"/><circle cx="597.3" cy="101.5" r="3.8" fill="#dd8452"/><circle cx="605.9" cy="89.3" r="3.8" fill="#dd8452"/><circle cx="612.3" cy="90.7" r="3.8" fill="#4c72b0"/><circle cx="612.3" cy="96.5" r="3.8" fill="#4c72b0"/><circle cx="619.5" cy="97.2" r="3.8" fill="#dd8452"/><circle cx="615.9" cy="102.2" r="3.8" fill="#4c72b0"/><circle cx="612.3" cy="105.8" r="3.8" fill="#dd8452"/><circle cx="605.9" cy="110.8" r="3.8" fill="#4c72b0"/><circle cx="615.9" cy="111.5" r="3.8" fill="#dd8452"/><circle cx="611.6" cy="112.9" r="3.8" fill="#4c72b0"/><circle cx="611.6" cy="120.8" r="3.8" fill="#4c72b0"/><circle cx="592.3" cy="117.2" r="3.8" fill="#4c72b0"/><circle cx="592.3" cy="133.7" r="3.8" fill="#4c72b0"/><circle cx="551.4" cy="99.3" r="3.8" fill="#dd8452"/><circle cx="562.9" cy="101.5" r="3.8" fill="#dd8452"/><circle cx="558.6" cy="104.3" r="3.8" fill="#4c72b0"/><circle cx="565.8" cy="97.9" r="3.8" fill="#dd8452"/><circle cx="565.8" cy="107.2" r="3.8" fill="#4c72b0"/><circle cx="559.3" cy="110.1" r="3.8" fill="#4c72b0"/><circle cx="570.8" cy="114.4" r="3.8" fill="#4c72b0"/><circle cx="551.4" cy="113.7" r="3.8" fill="#4c72b0"/><circle cx="559.3" cy="119.4" r="3.8" fill="#dd8452"/><circle cx="565.8" cy="118.7" r="3.8" fill="#dd8452"/><circle cx="551.4" cy="119.4" r="3.8" fill="#4c72b0"/><circle cx="552.1" cy="125.8" r="3.8" fill="#dd8452"/><circle cx="562.2" cy="125.1" r="3.8" fill="#4c72b0"/><circle cx="565.8" cy="126.6" r="3.8" fill="#4c72b0"/><circle cx="565.8" cy="133.0" r="3.8" fill="#4c72b0"/><circle cx="562.9" cy="128.0" r="3.8" fill="#4c72b0"/><circle cx="570.8" cy="143.0" r="3.8" fill="#dd8452"/><circle cx="552.9" cy="145.2" r="3.8" fill="#4c72b0"/><circle cx="561.5" cy="144.5" r="3.8" fill="#4c72b0"/><circle cx="558.6" cy="150.9" r="3.8" fill="#dd8452"/><circle cx="565.8" cy="155.9" r="3.8" fill="#dd8452"/><circle cx="560.7" cy="153.8" r="3.8" fill="#dd8452"/><circle cx="550.0" cy="135.2" r="3.8" fill="#4c72b0"/><circle cx="550.0" cy="129.4" r="3.8" fill="#dd8452"/><circle cx="555.7" cy="115.1" r="3.8" fill="#4c72b0"/><circle cx="408.0" cy="169.3" r="3.8" fill="#4c72b0"/><circle cx="408.0" cy="165.0" r="3.8" fill="#dd8452"/><circle cx="419.5" cy="170.7" r="3.8" fill="#4c72b0"/><circle cx="425.2" cy="169.7" r="3.8" fill="#4c72b0"/><circle cx="433.8" cy="168.9" r="3.8" fill="#4c72b0"/><circle cx="381.5" cy="174.8" r="3.8" fill="#4c72b0"/><circle cx="397.7" cy="182.5" r="3.8" fill="#4c72b0"/><circle cx="421.6" cy="177.9" r="3.8" fill="#4c72b0"/><circle cx="408.7" cy="186.5" r="3.8" fill="#4c72b0"/><circle cx="409.0" cy="188.7" r="3.8" fill="#dd8452"/><circle cx="419.5" cy="185.8" r="3.8" fill="#dd8452"/><circle cx="415.2" cy="191.5" r="3.8" fill="#4c72b0"/><circle cx="417.3" cy="194.4" r="3.8" fill="#dd8452"/><circle cx="424.8" cy="191.8" r="3.8" fill="#dd8452"/><circle cx="417.3" cy="200.1" r="3.8" fill="#4c72b0"/><circle cx="415.2" cy="205.9" r="3.8" fill="#dd8452"/><circle cx="420.2" cy="209.4" r="3.8" fill="#4c72b0"/><circle cx="412.3" cy="216.6" r="3.8" fill="#dd8452"/><circle cx="420.2" cy="215.6" r="3.8" fill="#dd8452"/><circle cx="421.6" cy="229.2" r="3.8" fill="#dd8452"/><circle cx="441.0" cy="200.8" r="3.8" fill="#4c72b0"/><circle cx="445.7" cy="198.7" r="3.8" fill="#4c72b0"/><circle cx="433.4" cy="198.0" r="3.8" fill="#dd8452"/><circle cx="442.0" cy="198.0" r="3.8" fill="#dd8452"/><circle cx="448.1" cy="192.2" r="3.8" fill="#dd8452"/><circle cx="449.1" cy="185.1" r="3.8" fill="#4c72b0"/><circle cx="445.7" cy="181.5" r="3.8" fill="#4c72b0"/><circle cx="440.2" cy="181.5" r="3.8" fill="#dd8452"/><circle cx="445.3" cy="169.3" r="3.8" fill="#4c72b0"/><circle cx="445.3" cy="172.6" r="3.8" fill="#dd8452"/><circle cx="449.6" cy="174.3" r="3.8" fill="#dd8452"/><circle cx="451.7" cy="161.4" r="3.8" fill="#4c72b0"/><circle cx="453.9" cy="171.5" r="3.8" fill="#dd8452"/><circle cx="456.4" cy="160.7" r="3.8" fill="#4c72b0"/><circle cx="482.2" cy="161.4" r="3.8" fill="#4c72b0"/><circle cx="490.8" cy="163.6" r="3.8" fill="#4c72b0"/><circle cx="487.2" cy="165.0" r="3.8" fill="#4c72b0"/><circle cx="501.6" cy="161.4" r="3.8" fill="#dd8452"/><circle cx="501.6" cy="163.6" r="3.8" fill="#4c72b0"/><circle cx="512.3" cy="162.1" r="3.8" fill="#4c72b0"/><circle cx="523.8" cy="164.3" r="3.8" fill="#4c72b0"/><circle cx="512.3" cy="167.2" r="3.8" fill="#4c72b0"/><circle cx="513.7" cy="170.0" r="3.8" fill="#dd8452"/><circle cx="495.8" cy="169.3" r="3.8" fill="#dd8452"/><circle cx="477.9" cy="169.3" r="3.8" fill="#dd8452"/><circle cx="473.6" cy="173.6" r="3.8" fill="#dd8452"/><circle cx="486.5" cy="172.9" r="3.8" fill="#dd8452"/><circle cx="481.5" cy="178.6" r="3.8" fill="#4c72b0"/><circle cx="488.7" cy="182.2" r="3.8" fill="#dd8452"/><circle cx="498.0" cy="175.0" r="3.8" fill="#4c72b0"/><circle cx="503.7" cy="179.8" r="3.8" fill="#dd8452"/><circle cx="500.9" cy="184.6" r="3.8" fill="#4c72b0"/><circle cx="501.6" cy="189.4" r="3.8" fill="#4c72b0"/><circle cx="506.6" cy="196.1" r="3.8" fill="#4c72b0"/><circle cx="512.6" cy="205.1" r="3.8" fill="#4c72b0"/><circle cx="466.2" cy="182.9" r="3.8" fill="#4c72b0"/><circle cx="466.2" cy="184.4" r="3.8" fill="#dd8452"/><circle cx="466.5" cy="189.8" r="3.8" fill="#dd8452"/><circle cx="462.2" cy="198.0" r="3.8" fill="#4c72b0"/><circle cx="477.9" cy="192.7" r="3.8" fill="#4c72b0"/><circle cx="477.2" cy="195.8" r="3.8" fill="#4c72b0"/><circle cx="475.1" cy="200.8" r="3.8" fill="#dd8452"/><circle cx="482.2" cy="203.0" r="3.8" fill="#dd8452"/><circle cx="481.5" cy="208.0" r="3.8" fill="#4c72b0"/><circle cx="490.1" cy="204.7" r="3.8" fill="#dd8452"/><circle cx="495.8" cy="205.1" r="3.8" fill="#4c72b0"/><circle cx="495.8" cy="210.2" r="3.8" fill="#dd8452"/><circle cx="462.2" cy="214.2" r="3.8" fill="#dd8452"/><circle cx="458.6" cy="226.6" r="3.8" fill="#4c72b0"/><circle cx="466.5" cy="233.8" r="3.8" fill="#dd8452"/><circle cx="544.6" cy="165.7" r="3.8" fill="#dd8452"/><circle cx="544.6" cy="231.6" r="3.8" fill="#dd8452"/><circle cx="565.5" cy="170.3" r="3.8" fill="#dd8452"/><circle cx="559.7" cy="186.5" r="3.8" fill="#dd8452"/><circle cx="561.7" cy="209.9" r="3.8" fill="#dd8452"/><circle cx="561.6" cy="263.4" r="3.8" fill="#dd8452"/><circle cx="574.2" cy="257.1" r="3.8" fill="#4c72b0"/><circle cx="574.2" cy="284.0" r="3.8" fill="#dd8452"/><circle cx="506.5" cy="243.9" r="3.8" fill="#dd8452"/><circle cx="524.6" cy="238.7" r="3.8" fill="#dd8452"/><circle cx="502.7" cy="111.5" r="3.8" fill="#4c72b0"/><circle cx="513.6" cy="111.5" r="3.8" fill="#4c72b0"/><circle cx="517.2" cy="114.5" r="3.8" fill="#dd8452"/><circle cx="467.8" cy="122.3" r="3.8" fill="#dd8452"/><circle cx="487.7" cy="121.1" r="3.8" fill="#dd8452"/><circle cx="494.3" cy="119.9" r="3.8" fill="#dd8452"/><circle cx="507.6" cy="121.1" r="3.8" fill="#4c72b0"/><circle cx="517.2" cy="129.6" r="3.8" fill="#4c72b0"/><circle cx="479.8" cy="131.4" r="3.8" fill="#dd8452"/><circle cx="488.3" cy="137.4" r="3.8" fill="#4c72b0"/><circle cx="496.7" cy="125.9" r="3.8" fill="#4c72b0"/><circle cx="465.9" cy="151.9" r="3.8" fill="#dd8452"/><circle cx="469.6" cy="147.1" r="3.8" fill="#4c72b0"/><circle cx="489.5" cy="147.1" r="3.8" fill="#dd8452"/><circle cx="490.7" cy="156.7" r="3.8" fill="#4c72b0"/><circle cx="471.4" cy="137.4" r="3.8" fill="#4c72b0"/><circle cx="552.0" cy="61.1" r="3.8" fill="#dd8452"/><circle cx="542.3" cy="90.7" r="3.8" fill="#4c72b0"/><circle cx="561.0" cy="82.2" r="3.8" fill="#dd8452"/><circle cx="562.2" cy="93.1" r="3.8" fill="#dd8452"/><circle cx="563.4" cy="96.7" r="3.8" fill="#4c72b0"/><circle cx="584.0" cy="89.5" r="3.8" fill="#dd8452"/><circle cx="593.6" cy="71.4" r="3.8" fill="#dd8452"/><circle cx="569.5" cy="61.7" r="3.8" fill="#dd8452"/><circle cx="220.5" cy="337.8" r="3.8" fill="#dd8452"/><circle cx="246.3" cy="336.4" r="3.8" fill="#4c72b0"/><circle cx="230.6" cy="345.2" r="3.8" fill="#4c72b0"/><circle cx="245.4" cy="347.0" r="3.8" fill="#4c72b0"/><circle cx="248.2" cy="349.8" r="3.8" fill="#dd8452"/><circle cx="202.0" cy="359.9" r="3.8" fill="#dd8452"/><circle cx="222.3" cy="362.7" r="3.8" fill="#4c72b0"/><circle cx="227.9" cy="359.9" r="3.8" fill="#dd8452"/><circle cx="245.4" cy="358.1" r="3.8" fill="#4c72b0"/><circle cx="191.8" cy="364.5" r="3.8" fill="#4c72b0"/><circle cx="206.6" cy="366.4" r="3.8" fill="#dd8452"/><circle cx="217.7" cy="370.1" r="3.8" fill="#dd8452"/><circle cx="247.2" cy="368.2" r="3.8" fill="#dd8452"/><circle cx="198.3" cy="367.3" r="3.8" fill="#4c72b0"/><circle cx="204.8" cy="378.4" r="3.8" fill="#dd8452"/><circle cx="233.4" cy="378.4" r="3.8" fill="#dd8452"/><circle cx="245.4" cy="377.5" r="3.8" fill="#4c72b0"/><circle cx="232.5" cy="383.0" r="3.8" fill="#4c72b0"/><circle cx="165.9" cy="380.9" r="3.8" fill="#4c72b0"/><circle cx="189.9" cy="385.5" r="3.8" fill="#dd8452"/><circle cx="140.9" cy="388.3" r="3.8" fill="#4c72b0"/><circle cx="142.8" cy="398.5" r="3.8" fill="#dd8452"/><circle cx="191.7" cy="390.2" r="3.8" fill="#dd8452"/><circle cx="196.3" cy="393.9" r="3.8" fill="#dd8452"/><circle cx="199.1" cy="391.1" r="3.8" fill="#4c72b0"/><circle cx="140.9" cy="405.9" r="3.8" fill="#4c72b0"/><circle cx="142.8" cy="403.1" r="3.8" fill="#dd8452"/><circle cx="161.2" cy="398.5" r="3.8" fill="#4c72b0"/><circle cx="162.2" cy="404.9" r="3.8" fill="#4c72b0"/><circle cx="154.8" cy="410.5" r="3.8" fill="#dd8452"/><circle cx="170.5" cy="407.7" r="3.8" fill="#dd8452"/><circle cx="186.2" cy="400.3" r="3.8" fill="#dd8452"/><circle cx="193.6" cy="397.5" r="3.8" fill="#dd8452"/><circle cx="198.2" cy="409.5" r="3.8" fill="#dd8452"/><circle cx="143.7" cy="418.8" r="3.8" fill="#dd8452"/><circle cx="155.7" cy="419.7" r="3.8" fill="#4c72b0"/><circle cx="176.0" cy="419.7" r="3.8" fill="#4c72b0"/><circle cx="187.1" cy="418.8" r="3.8" fill="#dd8452"/><circle cx="200.0" cy="416.9" r="3.8" fill="#4c72b0"/><circle cx="151.1" cy="426.2" r="3.8" fill="#4c72b0"/><circle cx="170.5" cy="427.1" r="3.8" fill="#dd8452"/><circle cx="175.1" cy="426.2" r="3.8" fill="#4c72b0"/><circle cx="501.8" cy="95.9" r="3.8" fill="#4c72b0"/><circle cx="513.9" cy="96.8" r="3.8" fill="#dd8452"/><circle cx="521.2" cy="100.5" r="3.8" fill="#4c72b0"/><circle cx="530.5" cy="97.8" r="3.8" fill="#dd8452"/><circle cx="544.3" cy="96.8" r="3.8" fill="#4c72b0"/><circle cx="557.2" cy="100.5" r="3.8" fill="#4c72b0"/><circle cx="525.9" cy="107.0" r="3.8" fill="#4c72b0"/><circle cx="548.0" cy="106.1" r="3.8" fill="#4c72b0"/><circle cx="555.4" cy="107.0" r="3.8" fill="#4c72b0"/><circle cx="541.6" cy="108.9" r="3.8" fill="#4c72b0"/><circle cx="544.3" cy="110.7" r="3.8" fill="#dd8452"/><circle cx="524.9" cy="117.2" r="3.8" fill="#4c72b0"/><circle cx="530.5" cy="119.0" r="3.8" fill="#4c72b0"/><circle cx="557.2" cy="112.5" r="3.8" fill="#4c72b0"/><circle cx="502.8" cy="123.6" r="3.8" fill="#4c72b0"/><circle cx="519.4" cy="121.8" r="3.8" fill="#4c72b0"/><circle cx="523.1" cy="127.3" r="3.8" fill="#dd8452"/><circle cx="540.6" cy="128.2" r="3.8" fill="#dd8452"/><circle cx="555.4" cy="123.6" r="3.8" fill="#4c72b0"/><circle cx="542.5" cy="125.5" r="3.8" fill="#4c72b0"/><circle cx="548.0" cy="130.1" r="3.8" fill="#4c72b0"/><circle cx="526.8" cy="131.9" r="3.8" fill="#dd8452"/><circle cx="501.8" cy="133.8" r="3.8" fill="#4c72b0"/><circle cx="508.3" cy="136.6" r="3.8" fill="#dd8452"/><circle cx="518.5" cy="134.7" r="3.8" fill="#4c72b0"/><circle cx="531.4" cy="136.6" r="3.8" fill="#dd8452"/><circle cx="524.0" cy="143.0" r="3.8" fill="#4c72b0"/><circle cx="544.3" cy="141.2" r="3.8" fill="#4c72b0"/><circle cx="514.8" cy="142.1" r="3.8" fill="#dd8452"/><circle cx="506.7" cy="124.6" r="3.8" fill="#4c72b0"/><circle cx="512.2" cy="122.8" r="3.8" fill="#dd8452"/><circle cx="498.4" cy="128.3" r="3.8" fill="#dd8452"/><circle cx="506.7" cy="129.2" r="3.8" fill="#dd8452"/><circle cx="495.6" cy="133.9" r="3.8" fill="#4c72b0"/><circle cx="507.6" cy="132.0" r="3.8" fill="#4c72b0"/><circle cx="466.1" cy="142.2" r="3.8" fill="#4c72b0"/><circle cx="485.5" cy="141.2" r="3.8" fill="#dd8452"/><circle cx="492.9" cy="143.1" r="3.8" fill="#dd8452"/><circle cx="495.6" cy="141.2" r="3.8" fill="#4c72b0"/><circle cx="512.2" cy="147.7" r="3.8" fill="#dd8452"/><circle cx="479.9" cy="149.5" r="3.8" fill="#dd8452"/><circle cx="497.5" cy="151.4" r="3.8" fill="#4c72b0"/><circle cx="482.7" cy="155.1" r="3.8" fill="#4c72b0"/><circle cx="490.1" cy="154.2" r="3.8" fill="#4c72b0"/><circle cx="492.9" cy="156.0" r="3.8" fill="#dd8452"/><circle cx="488.2" cy="161.6" r="3.8" fill="#4c72b0"/></g>
<line x1="91.0" y1="458.7" x2="636.3" y2="37.9" stroke="#4c72b0" stroke-width="1.8" stroke-dasharray="6.6 2.7"/>
<line x1="91.0" y1="458.7" x2="635.8" y2="38.3" stroke="#dd8452" stroke-width="2.0" stroke-dasharray="6.6 2.7"/>
<line x1="91.0" y1="474.5" x2="636.1" y2="22.1" stroke="#1a1a1a" stroke-width="1.8"/>
<g font-family='"Liberation Sans", sans-serif' font-size="13.4" fill="#262626"><text transform="translate(56.8 470.70) scale(1 1.1)" text-anchor="end">−15</text><text transform="translate(101.95 514.6) scale(1 1.1)" text-anchor="middle">−15</text><text transform="translate(56.8 398.30) scale(1 1.1)" text-anchor="end">−10</text><text transform="translate(189.17 514.6) scale(1 1.1)" text-anchor="middle">−10</text><text transform="translate(56.8 325.90) scale(1 1.1)" text-anchor="end">−5</text><text transform="translate(276.38 514.6) scale(1 1.1)" text-anchor="middle">−5</text><text transform="translate(56.8 253.50) scale(1 1.1)" text-anchor="end">0</text><text transform="translate(363.60 514.6) scale(1 1.1)" text-anchor="middle">0</text><text transform="translate(56.8 181.10) scale(1 1.1)" text-anchor="end">5</text><text transform="translate(450.82 514.6) scale(1 1.1)" text-anchor="middle">5</text><text transform="translate(56.8 108.70) scale(1 1.1)" text-anchor="end">10</text><text transform="translate(538.03 514.6) scale(1 1.1)" text-anchor="middle">10</text><text transform="translate(56.8 36.30) scale(1 1.1)" text-anchor="end">15</text><text transform="translate(625.25 514.6) scale(1 1.1)" text-anchor="middle">15</text></g>
<g font-family='"Liberation Sans", sans-serif' fill="#262626"><text x="263.4" y="535.3" font-size="20" >Real</text><text x="310.1" y="535.3" font-size="20" textLength="44.6" lengthAdjust="spacingAndGlyphs">ΔΔG</text><text x="353.6" y="526.6" font-size="13.2" >‡</text><text x="366.7" y="535.3" font-size="20" >/ kJ</text><text x="404.5" y="535.3" font-size="20" font-style="italic" textLength="36.5" lengthAdjust="spacingAndGlyphs">mol</text><text x="443.8" y="527.6" font-size="13" textLength="20" lengthAdjust="spacingAndGlyphs">−1</text></g>
<g font-family='"Liberation Sans", sans-serif' fill="#262626" transform="translate(25.3 397.7) rotate(-90)"><text x="-1.2" y="0" font-size="20" >Mean Predicted</text><text x="146.4" y="0" font-size="20" textLength="43.3" lengthAdjust="spacingAndGlyphs">ΔΔG</text><text x="189.1" y="-8.9" font-size="13.2" >‡</text><text x="201.79999999999998" y="0" font-size="20" >/ kJ</text><text x="239.5" y="0" font-size="20" font-style="italic" textLength="36.5" lengthAdjust="spacingAndGlyphs">mol</text><text x="278.29999999999995" y="-7.9" font-size="13" textLength="20" lengthAdjust="spacingAndGlyphs">−1</text></g>
<g font-family='"Liberation Sans", sans-serif' font-size="12.4" fill="#262626"><rect x="70.6" y="6.3" width="211.3" height="93.0" rx="1.8" fill="#fff" fill-opacity="0.8" stroke="#d0d0d0" stroke-width="0.9"/><circle cx="88" cy="15.7" r="3.65" fill="#4c72b0" stroke="#222" stroke-width="0.85"/><circle cx="88" cy="33.5" r="3.65" fill="#dd8452" stroke="#222" stroke-width="0.85"/><line x1="75.1" y1="51.6" x2="100.6" y2="51.6" stroke="#4c72b0" stroke-width="1.6" stroke-dasharray="6.7 2.7"/><line x1="75.1" y1="69.3" x2="100.6" y2="69.3" stroke="#dd8452" stroke-width="1.6" stroke-dasharray="6.7 2.7"/><line x1="75.1" y1="87.2" x2="100.6" y2="87.2" stroke="#1a1a1a" stroke-width="1.6"/><text x="111" y="19.9">HCat-GNet</text><text x="111" y="37.7">Gradient Boosting</text><text x="111" y="55.8">Regression HCat-GNet</text><text x="111" y="73.5">Regression Gradient Boosting</text><text x="111" y="91.1">Line of Equality</text></g>
<g font-family='"Liberation Sans", sans-serif' font-size="12.45" fill="#262626"><rect x="210" y="444.5" width="300" height="34" fill="#fff" fill-opacity="0.8"/><text x="214.8" y="459.2">HCat-GNet: <tspan font-style="italic" dx="-0.8">R</tspan><tspan dy="-5" dx="1.2" font-size="9.6">2</tspan><tspan dy="5">: 0.93, MAE: 1.75, RMSE: 2.40</tspan></text><text x="214.8" y="475.2">Gradient Boosting: <tspan font-style="italic" dx="-0.8">R</tspan><tspan dy="-5" dx="1.2" font-size="9.6">2</tspan><tspan dy="5">: 0.90, MAE: 1.95, RMSE: 3.00</tspan></text></g>
</svg></body></html>
